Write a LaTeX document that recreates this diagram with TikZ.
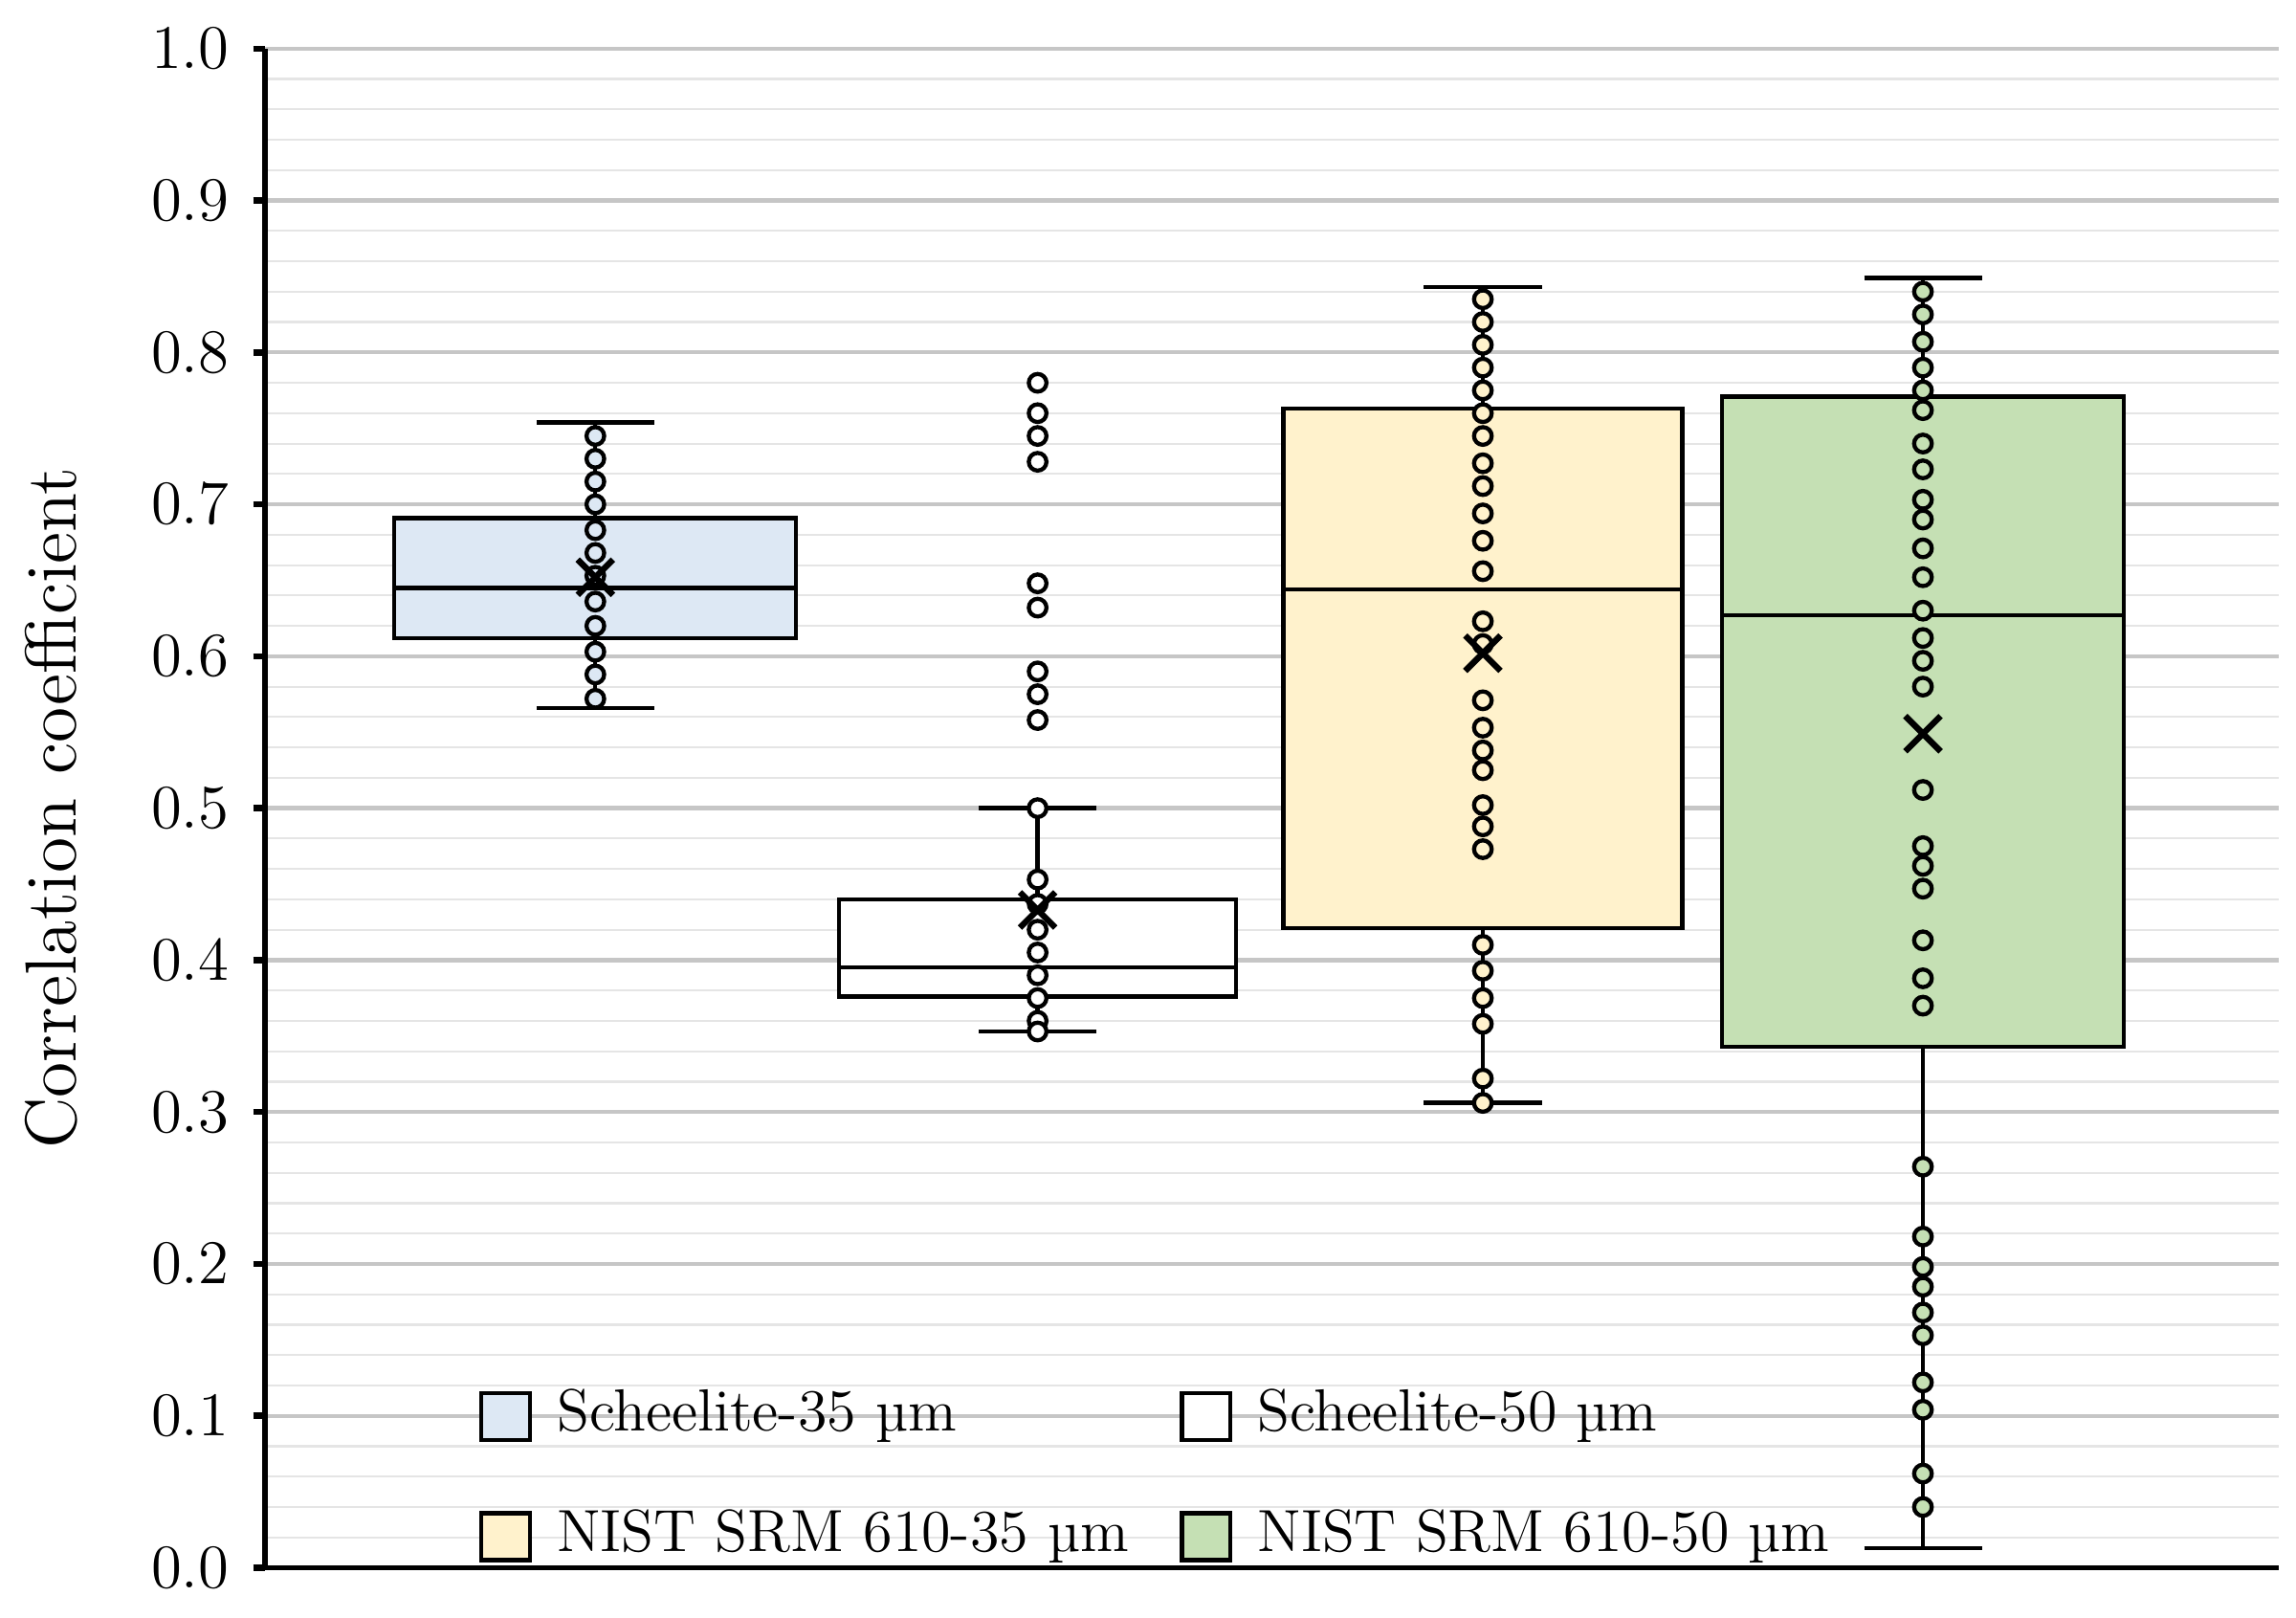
\documentclass[tikz,border=0pt]{standalone}
\usepackage{tikz}
\usetikzlibrary{positioning,calc}
\definecolor{blueFill}{HTML}{DDE8F4}
\definecolor{yellowFill}{HTML}{FFF2CC}
\definecolor{greenFill}{HTML}{C5E0B4}
\tikzset{
  boxline/.style={thick},
  dot/.style={circle,draw=black,thick,inner sep=0pt,minimum size=0.12cm},
  meanmark/.style={very thick},
  ticklabel/.style={left,font=\fontsize{13}{15}\selectfont},
  legtext/.style={right,font=\fontsize{11.5}{13}\selectfont}
}
% box: x-left, x-right, q1, median, q3, whisker low, whisker high, fill
\newcommand{\corrbox}[8]{%
  \pgfmathsetmacro{\cx}{(#1+#2)/2}
  \draw[boxline] (\cx,#6) -- (\cx,#7);
  \draw[boxline,fill=#8] (#1,#3) rectangle (#2,#5);
  \draw[boxline] (#1,#4) -- (#2,#4);
  \draw[boxline] (\cx-0.4,#6) -- (\cx+0.4,#6);
  \draw[boxline] (\cx-0.4,#7) -- (\cx+0.4,#7);
}
\newcommand{\corrmean}[2]{%
  \draw[meanmark] ($(#1,#2)+(-0.12cm,-0.12cm)$) -- ($(#1,#2)+(0.12cm,0.12cm)$);
  \draw[meanmark] ($(#1,#2)+(-0.12cm,0.12cm)$) -- ($(#1,#2)+(0.12cm,-0.12cm)$);
}
\begin{document}
\begin{tikzpicture}
  \useasboundingbox (0,0) rectangle (15.6,10.99);
  \begin{scope}[yshift=0.34cm,y=10.32cm]
    % Grid
    \foreach \i in {1,...,49}
      \draw[gray!20,thin] (1.8,\i/50) -- (15.48,\i/50);
    \foreach \i in {1,...,10}
      \draw[gray!45,thick] (1.8,\i/10) -- (15.48,\i/10);

    % Boxes
    \corrbox{2.68}{5.41}{0.612}{0.645}{0.691}{0.566}{0.754}{blueFill}
    \corrbox{5.70}{8.40}{0.376}{0.395}{0.440}{0.353}{0.500}{white}
    \corrbox{8.72}{11.43}{0.421}{0.644}{0.763}{0.306}{0.843}{yellowFill}
    \corrbox{11.70}{14.43}{0.343}{0.627}{0.771}{0.013}{0.849}{greenFill}

    % Data points
    \foreach \v in {0.745,0.73,0.715,0.70,0.683,0.668,0.653,0.636,0.62,0.603,0.588,0.572}
      \node[dot,fill=blueFill] at (4.045,\v) {};
    \foreach \v in {0.78,0.76,0.745,0.728,0.648,0.632,0.59,0.575,0.558,0.50,0.453,0.437,0.42,0.405,0.39,0.375,0.36,0.353}
      \node[dot,fill=white] at (7.05,\v) {};
    \foreach \v in {0.835,0.82,0.805,0.79,0.775,0.76,0.745,0.727,0.712,0.694,0.676,0.656,0.623,0.608,0.571,0.553,0.538,0.525,0.502,0.488,0.473,0.41,0.393,0.375,0.358,0.322,0.306}
      \node[dot,fill=yellowFill] at (10.075,\v) {};
    \foreach \v in {0.84,0.825,0.807,0.79,0.775,0.762,0.74,0.723,0.703,0.69,0.671,0.652,0.63,0.612,0.597,0.58,0.512,0.475,0.462,0.447,0.413,0.388,0.37,0.264,0.218,0.198,0.185,0.168,0.153,0.122,0.104,0.062,0.04}
      \node[dot,fill=greenFill] at (13.065,\v) {};

    % Means
    \corrmean{4.045}{0.652}
    \corrmean{7.05}{0.433}
    \corrmean{10.075}{0.602}
    \corrmean{13.065}{0.549}

    % Axes
    \draw[very thick] (1.8,0) -- (1.8,1.0);
    \draw[thick] (1.8,0) -- (15.48,0);
    \foreach \i in {0,...,10}{
      \draw[very thick] (1.72,\i/10) -- (1.8,\i/10);
      \pgfmathsetmacro{\lab}{\i/10}
      \node[ticklabel] at (1.68,\i/10) {\pgfmathprintnumber[fixed,precision=1,fixed zerofill]{\lab}};
    }
    \node[rotate=90,font=\fontsize{14}{16}\selectfont] (ylabel) at (0.35,0.5) {Correlation coefficient};

    % Legend
    \draw[thick,fill=blueFill] (3.27,0.084) rectangle (3.60,0.115);
    \node[legtext] (leg1) at (3.66,0.1) {Scheelite-35 \textmu m};
    \draw[thick,fill=white] (8.03,0.084) rectangle (8.36,0.115);
    \node[legtext] (leg2) at (8.42,0.1) {Scheelite-50 \textmu m};
    \draw[thick,fill=yellowFill] (3.27,0.005) rectangle (3.60,0.036);
    \node[legtext] (leg3) at (3.66,0.021) {NIST SRM 610-35 \textmu m};
    \draw[thick,fill=greenFill] (8.03,0.005) rectangle (8.36,0.036);
    \node[legtext] (leg4) at (8.42,0.021) {NIST SRM 610-50 \textmu m};
  \end{scope}
\end{tikzpicture}
\end{document}
